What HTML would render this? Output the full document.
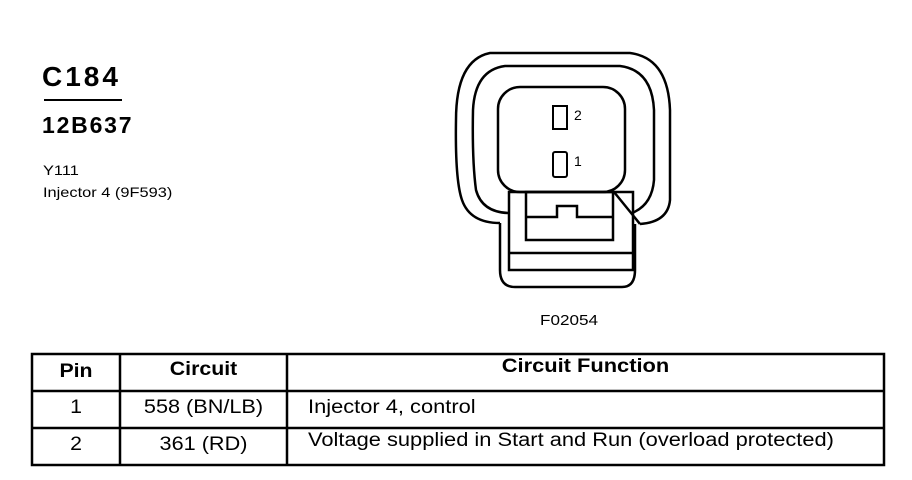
<!DOCTYPE html>
<html><head><meta charset="utf-8"><style>
body{margin:0;background:#fff;width:912px;height:480px;position:relative;overflow:hidden;font-family:"Liberation Sans",Arial,sans-serif;color:#000}
.t{position:absolute;white-space:nowrap}
.l{transform-origin:left center}
.c{transform-origin:center center}
</style></head><body>
<div class="t" style="left:42px;top:61px;font-size:28px;font-weight:bold;letter-spacing:3px">C184</div>
<div style="position:absolute;left:44px;top:99px;width:78px;height:2px;background:#000"></div>
<div class="t" style="left:42px;top:112px;font-size:23px;font-weight:bold;letter-spacing:1.8px">12B637</div>
<div class="t l" style="left:43px;top:162px;font-size:14px;transform:scaleX(1.17)">Y111</div>
<div class="t l" style="left:43px;top:184px;font-size:14px;transform:scaleX(1.17)">Injector 4 (9F593)</div>
<div class="t l" style="left:540px;top:312px;font-size:15px;transform:scaleX(1.14)">F02054</div>
<svg width="912" height="480" style="position:absolute;left:0;top:0" fill="none" stroke="#000" stroke-width="2.5">
<path d="M500,223 Q470,223 462,200 Q455,180 456,120 Q456,60 490,53 L630,53 Q668,58 670,110 L670,200 Q668,222 640,224"/>
<path d="M508,213 Q482,212 476,190 Q472,160 473,110 Q475,70 505,66 L620,66 Q652,70 654,110 L654,180 Q652,205 632,213"/>
<rect x="498" y="87" width="127" height="105" rx="22"/>
<path d="M500,223 L500,270 Q500,287 515,287 L622,287 Q635,287 635,270 L635,224"/>
<rect x="509" y="192" width="124" height="78"/>
<line x1="509" y1="253" x2="633" y2="253"/>
<rect x="526" y="192" width="87" height="48"/>
<path d="M526,217 L557,217 L557,206 L577,206 L577,217 L613,217"/>
<line x1="614" y1="192" x2="640" y2="224"/>
<rect x="553" y="106" width="14" height="23" stroke-width="2"/>
<rect x="553" y="152" width="14" height="25" rx="2" stroke-width="2"/>
<rect x="32" y="354" width="852" height="111" stroke-width="2.5"/>
<line x1="120" y1="354" x2="120" y2="465"/>
<line x1="287" y1="354" x2="287" y2="465"/>
<line x1="32" y1="391" x2="884" y2="391"/>
<line x1="32" y1="428" x2="884" y2="428"/>
</svg>
<div class="t" style="left:574px;top:107px;font-size:14px">2</div>
<div class="t" style="left:574px;top:153px;font-size:14px">1</div>
<div class="t c" style="left:32px;width:88px;text-align:center;top:361px;font-size:19px;font-weight:bold;transform:scaleX(1.12)">Pin</div>
<div class="t c" style="left:120px;width:167px;text-align:center;top:359px;font-size:19px;font-weight:bold;transform:scaleX(1.12)">Circuit</div>
<div class="t c" style="left:287px;width:597px;text-align:center;top:356px;font-size:19px;font-weight:bold;transform:scaleX(1.15)">Circuit Function</div>
<div class="t c" style="left:32px;width:88px;text-align:center;top:397px;font-size:19px;transform:scaleX(1.12)">1</div>
<div class="t c" style="left:120px;width:167px;text-align:center;top:397px;font-size:19px;transform:scaleX(1.14)">558 (BN/LB)</div>
<div class="t l" style="left:308px;top:397px;font-size:19px;transform:scaleX(1.15)">Injector 4, control</div>
<div class="t c" style="left:32px;width:88px;text-align:center;top:434px;font-size:19px;transform:scaleX(1.12)">2</div>
<div class="t c" style="left:120px;width:167px;text-align:center;top:434px;font-size:19px;transform:scaleX(1.14)">361 (RD)</div>
<div class="t l" style="left:308px;top:430px;font-size:19px;transform:scaleX(1.15)">Voltage supplied in Start and Run (overload protected)</div>
</body></html>
